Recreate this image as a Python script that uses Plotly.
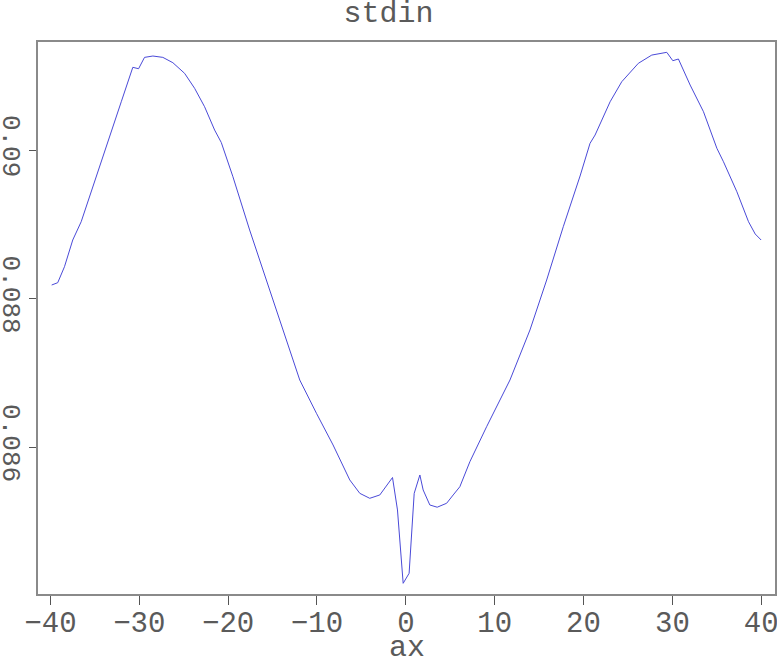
import plotly.graph_objects as go

x_vals = [-39.86, -39.18, -38.42, -37.49, -36.54, -35.04, -34.11, -33.16, -32.03, -30.73,
          -30.08, -29.41, -28.47, -27.35, -26.22, -24.90, -23.77, -22.65, -21.52, -20.77,
          -19.46, -17.58, -15.70, -14.20, -11.94, -10.06, -8.19, -6.31, -5.18, -4.06,
          -2.93, -1.50, -0.94, -0.30, 0.37, 0.94, 1.58, 1.95, 2.70, 3.53,
          4.59, 5.33, 6.08, 7.21, 9.09, 11.72, 13.97, 15.85, 17.72, 19.61,
          20.73, 21.30, 22.99, 24.30, 26.17, 27.68, 29.37, 30.05, 30.68, 32.00,
          33.50, 35.01, 35.75, 37.26, 38.57, 39.32, 39.99]
y_vals = [0.088182, 0.088213, 0.088428, 0.088788, 0.089034, 0.089573, 0.089933, 0.090269, 0.090650, 0.091114,
          0.091095, 0.091248, 0.091266, 0.091248, 0.091176, 0.091033, 0.090831, 0.090583, 0.090269, 0.090101,
          0.089640, 0.088923, 0.088249, 0.087710, 0.086902, 0.086454, 0.086027, 0.085556, 0.085376, 0.085309,
          0.085354, 0.085589, 0.085152, 0.084164, 0.084299, 0.085376, 0.085623, 0.085421, 0.085219, 0.085189,
          0.085242, 0.085354, 0.085465, 0.085802, 0.086273, 0.086902, 0.087576, 0.088249, 0.088967, 0.089650,
          0.090090, 0.090202, 0.090650, 0.090920, 0.091168, 0.091279, 0.091316, 0.091203, 0.091226, 0.090875,
          0.090516, 0.090023, 0.089842, 0.089438, 0.089034, 0.088869, 0.088788]

x_ticks = [-40, -30, -20, -10, 0, 10, 20, 30, 40]
x_tick_text = ["\u221240", "\u221230", "\u221220", "\u221210", "0", "10", "20", "30", "40"]
y_ticks = [0.086, 0.088, 0.090]
y_tick_text = ["0.086", "0.088", "0.09"]
x_label = "ax"
title_text = "stdin"

FONT = "Liberation Mono"
TXT = "#5a5a5a"
AX = "#8a8a8a"

fig = go.Figure()
fig.add_trace(go.Scatter(x=x_vals, y=y_vals, mode="lines",
                         line=dict(color="#4a4ad8", width=1)))

fig.update_layout(
    width=777, height=659,
    margin=dict(l=38, r=2, t=42, b=65, autoexpand=False),
    paper_bgcolor="white", plot_bgcolor="white",
    showlegend=False,
    title=dict(text=title_text, x=0.5, xanchor="center", y=0.983, yanchor="middle",
               font=dict(family=FONT, size=30, color=TXT)),
    xaxis=dict(range=[-41.4, 41.55], tickvals=x_ticks, ticktext=x_tick_text,
               automargin=False, ticklabeloverflow="allow",
               showgrid=False, zeroline=False, showline=True, mirror=True,
               linecolor=AX, linewidth=2, ticks="outside", ticklen=9, tickwidth=1,
               tickcolor="#555555", ticklabelstandoff=-8,
               tickfont=dict(family=FONT, size=29, color=TXT)),
    yaxis=dict(range=[0.08402, 0.091455], tickvals=y_ticks, ticktext=y_tick_text,
               automargin=False, ticklabeloverflow="allow",
               showgrid=False, zeroline=False, showline=True, mirror=True,
               linecolor=AX, linewidth=2, ticks="outside", ticklen=7, tickwidth=1,
               tickcolor="#555555", tickangle=90, ticklabelstandoff=-5,
               tickfont=dict(family=FONT, size=26, color=TXT)),
    annotations=[dict(text=x_label, xref="paper", yref="paper", x=0.5, y=-0.098,
                      xanchor="center", yanchor="middle", showarrow=False,
                      font=dict(family=FONT, size=30, color=TXT))],
)

fig.write_html("out.html", config={"displayModeBar": False},
               post_script="document.body.style.margin='0';document.body.style.padding='0';")
